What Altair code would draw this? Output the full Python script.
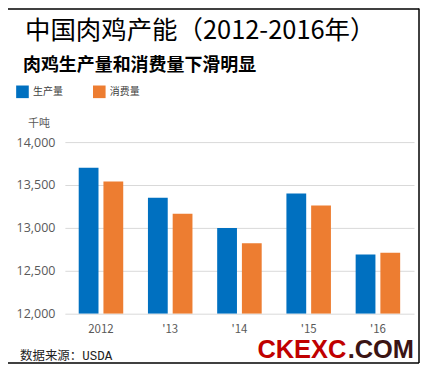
import altair as alt
import pandas as pd

# ---- data ----
years = ["2012", "'13", "'14", "'15", "'16"]
series = ["生产量", "消费量"]
production = [13700, 13350, 13000, 13400, 12690]
consumption = [13540, 13165, 12822, 13260, 12710]
colors = ["#0070c0", "#ed7d31"]
y_ticks = [12000, 12500, 13000, 13500, 14000]

title_text = "中国肉鸡产能（2012-2016年）"
subtitle_text = "肉鸡生产量和消费量下滑明显"
unit_text = "千吨"
source_text = "数据来源：USDA"

rows = []
for i, yr in enumerate(years):
    rows.append({"year": yr, "series": series[0], "value": production[i]})
    rows.append({"year": yr, "series": series[1], "value": consumption[i]})
df = pd.DataFrame(rows)

W, H = 350, 172
CJK = "Noto Sans CJK SC"

bars = alt.Chart(df).mark_bar(clip=True).encode(
    x=alt.X("year:N", sort=years, title=None,
            scale=alt.Scale(paddingInner=0.357, paddingOuter=0.2),
            axis=alt.Axis(labelAngle=0, ticks=False, domain=False, grid=False,
                          labelFontSize=11.5, labelColor="#595959", labelPadding=10,
                          labelFont=CJK)),
    xOffset=alt.XOffset("series:N", sort=series,
                        scale=alt.Scale(paddingInner=0.2, paddingOuter=0)),
    y=alt.Y("value:Q", title=None, stack=None,
            scale=alt.Scale(domain=[12000, 14000], nice=False, zero=False),
            axis=alt.Axis(values=y_ticks, labelExpr="format(datum.value, ',')",
                          ticks=False, domain=False,
                          grid=True, gridColor="#d9d9d9", gridWidth=1,
                          labelFontSize=12.5, labelColor="#595959", labelPadding=10,
                          labelFont="Open Sans")),
    color=alt.Color("series:N", sort=series,
                    scale=alt.Scale(domain=series, range=colors),
                    legend=alt.Legend(title=None, orient="none", direction="horizontal",
                                      legendX=-49, legendY=-57, symbolType="square",
                                      symbolSize=160, symbolStrokeWidth=0,
                                      symbolOpacity=1, labelFontSize=10,
                                      labelColor="#404040", labelOffset=4,
                                      columnPadding=30, padding=0, labelFont=CJK)),
)

def txt(text, x, y, size, color="#000000", weight="normal", font=CJK, align="left"):
    return alt.Chart(alt.Data(values=[{}])).mark_text(
        text=text, align=align, baseline="alphabetic", fontSize=size,
        fontWeight=weight, color=color, font=font
    ).encode(x=alt.value(x), y=alt.value(y))

title = txt(title_text, -40, -103.5, 25.5)
subtitle = txt(subtitle_text, -42, -71.5, 18, weight="bold")
unit = txt(unit_text, -37, -15.5, 11, color="#595959")
source = txt(source_text, -45, 218, 12.5, color="#222222",
             font="Liberation Mono, Noto Sans CJK SC")
wm1 = txt("CKEXC", 193, 216, 25.5, color="#c00000", weight="bold", font="Liberation Sans")
wm2 = txt(".COM", 350, 216, 25.5, color="#3a1414", weight="bold", font="Liberation Sans", align="right")

def rule(**kw):
    return alt.Chart(alt.Data(values=[{}])).mark_rule(color="#000000", strokeWidth=1.5).encode(**kw)

top_line = rule(x=alt.value(-57), x2=alt.value(355), y=alt.value(-133.5))
right_line = rule(x=alt.value(355), y=alt.value(-134), y2=alt.value(221.5))
bottom_line = rule(x=alt.value(-57), x2=alt.value(355), y=alt.value(221.5))

chart = alt.layer(
    bars, title, subtitle, unit, source, wm1, wm2, top_line, right_line, bottom_line
).properties(
    width=W, height=H,
    autosize=alt.AutoSizeParams(type="none"),
    padding={"left": 57, "top": 134, "right": 6, "bottom": 51},
    background="#ffffff",
).configure_view(stroke=None)

chart.save("out.html", embed_options={"renderer": "svg", "actions": False})
